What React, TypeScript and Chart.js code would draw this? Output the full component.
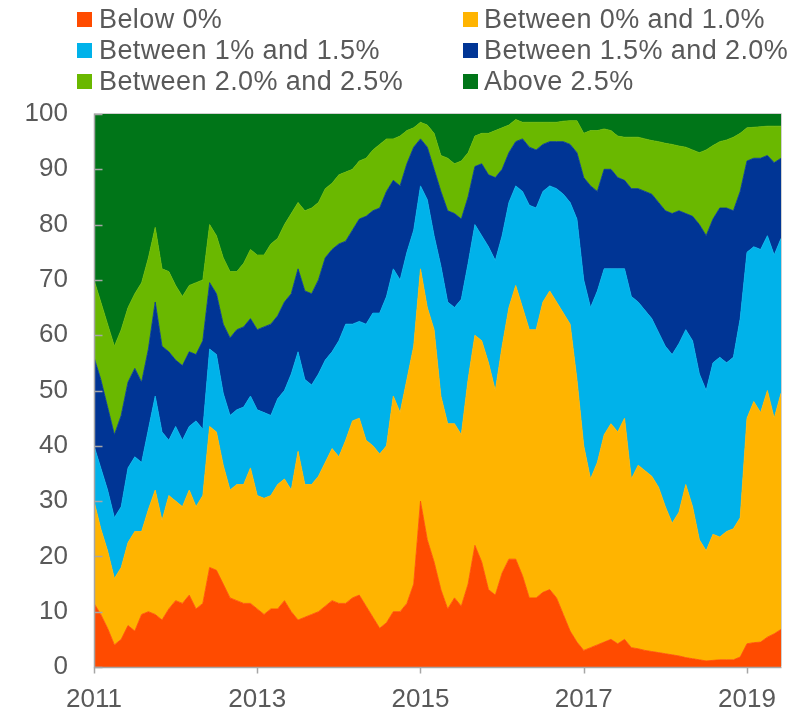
import React, { useEffect, useRef } from "react";
import { Chart, registerables } from "chart.js";

Chart.register(...registerables);

const FONT = '"Liberation Sans", Arial, Helvetica, sans-serif';
const TEXT_COLOR = "#595959";
const AXIS_COLOR = "#A6A6A6";

const seriesNames = [
  "Below 0%",
  "Between 0% and 1.0%",
  "Between 1% and 1.5%",
  "Between 1.5% and 2.0%",
  "Between 2.0% and 2.5%",
  "Above 2.5%",
];
const seriesColors = ["#FF4B00", "#FFB400", "#00B2EA", "#003595", "#6AB800", "#007518"];

const yearTicks = [2011, 2013, 2015, 2017, 2019];
const yTicks = [0, 10, 20, 30, 40, 50, 60, 70, 80, 90, 100];
const firstYear = 2011;

// monthly values, Jan 2011 .. Jun 2019 (share of total, %)
const below0 = [
  11.5, 9.5, 7, 4, 5, 7.5, 6.5, 9.5, 10, 9.5, 8.5, 10.5,
  12, 11.5, 13, 10.5, 11.5, 18, 17.5, 15, 12.5, 12, 11.5, 11.5,
  10.5, 9.5, 10.5, 10.5, 12, 10, 8.5, 9, 9.5, 10, 11, 12,
  11.5, 11.5, 12.5, 13, 11, 9, 7, 8, 10, 10, 11.5, 15,
  30, 23, 19, 14, 10.5, 12.5, 11, 15, 22, 19, 14, 13,
  17, 19.5, 19.5, 16.5, 12.5, 12.5, 13.5, 14, 12.5, 9.5, 6.5, 4.5,
  3, 3.5, 4, 4.5, 5, 4.2, 5, 3.5, 3.3, 3, 2.8, 2.6,
  2.4, 2.2, 2, 1.7, 1.5, 1.3, 1.1, 1.2, 1.3, 1.3, 1.3, 1.8,
  4.2, 4.4, 4.5, 5.4, 6, 6.8,
];
const between0and1 = [
  18.5, 15.5, 14, 12, 13, 15, 18, 15, 18.5, 22.5, 18, 20.5,
  18, 17.5, 19, 18.5, 19.5, 25.5, 25, 21.5, 19.5, 21, 21.5, 24.5,
  20.5, 21, 20.5, 22.5, 22, 22, 30.5, 24, 23.5, 24.5, 26, 27.5,
  26.5, 29.5, 32, 32, 30, 31, 31.5, 32, 39, 36, 40.5, 43,
  42, 42, 42, 35, 33.5, 31.5, 31, 37, 38, 40, 41, 37,
  41, 45.5, 49.5, 48.5, 48.5, 48.5, 52.5, 54, 53.5, 54.5, 55.5, 47.5,
  37, 30.5, 33, 37.5, 39, 38.3, 40, 30.5, 33.2, 32.5, 31.7, 29.9,
  26.6, 23.8, 26, 31.3, 27.5, 21.7, 19.9, 22.8, 22.2, 23.2, 23.7, 25.2,
  40.8, 43.6, 41.5, 44.6, 39, 42.7,
];
const between1and15 = [
  10, 11, 11, 11, 11, 13.5, 13.5, 12.5, 14.5, 17, 16, 10,
  13.5, 12, 11.5, 15.5, 12, 14, 14, 13, 13.5, 13.5, 14, 13,
  15.5, 15.5, 14.5, 15.5, 16, 21, 18, 19, 18, 18.5, 18.5, 17.5,
  21, 21, 17.5, 17.5, 21, 24, 25.5, 27, 23, 24, 23, 21,
  15, 19.5, 17, 23.5, 22, 21, 24.5, 21, 20, 19, 21, 23.5,
  20, 19, 18, 21, 22.5, 22, 20, 19, 20.5, 21.5, 22, 29,
  30, 31, 31, 30, 28, 29.5, 27, 33, 29.5, 29, 28.5, 28,
  29, 30.5, 30.5, 28, 30, 30, 29, 31, 32.5, 30.5, 31, 36,
  30, 28, 29.5, 28, 29.5, 28,
];
const between15and2 = [
  16, 16, 15, 15, 16.5, 15.5, 16, 14.5, 14.5, 17, 15.5, 16,
  12, 13.5, 13.5, 12, 16, 12, 11, 12.5, 14, 14.5, 14.5, 14,
  14.5, 15.5, 16.5, 15, 16, 14.5, 15, 16, 16.5, 17, 18.5, 18.5,
  17.5, 15, 17, 18.5, 19.5, 18.5, 19, 19, 16, 17, 16, 15,
  8.5, 9.5, 12, 13.5, 16.5, 17, 14.5, 12, 10.5, 13, 13, 15,
  12, 9, 8, 9.5, 10.5, 10.5, 8.5, 8, 8.5, 9.5, 10.5, 12,
  18.5, 22, 18, 18, 18, 16.5, 16, 19.5, 20.5, 21.5, 22.5, 23.5,
  24.5, 25.5, 24, 21, 22.5, 27, 28, 26, 27, 28, 26.5, 23,
  16.5, 16, 16.5, 14.5, 16.7, 14.5,
];
const between2and25 = [
  14, 14, 15, 16, 15.5, 13.5, 13.5, 18, 16.5, 13.5, 14, 14.5,
  13.5, 12.5, 12, 13, 11, 10.5, 10.5, 12, 12, 10.5, 11.5, 12.5,
  13.5, 13, 14.5, 14, 14, 14.5, 12, 14.5, 15.5, 14, 12.5, 12,
  12.5, 12.5, 11, 10.5, 10.5, 11, 11.5, 9.5, 7.5, 9, 6, 3.5,
  3, 4, 6.5, 6.5, 9.5, 9, 10.5, 8, 5.5, 5.5, 7.5, 8.5,
  7.5, 5, 4, 3, 4.5, 5, 4, 3.5, 3.5, 3.7, 4.3, 5.8,
  8, 10, 11, 7.3, 7, 7.5, 7.8, 9.3, 9.3, 9.5, 9.7, 11,
  12.2, 12.5, 11.7, 12, 12, 13, 15.5, 13.3, 12, 12.3, 13.3, 10.5,
  6, 5.6, 5.7, 5.3, 6.6, 5.8,
];
const above25 = [
  30, 34, 38, 42, 39, 35, 32.5, 30.5, 26, 20.5, 28, 28.5,
  31, 33, 31, 30.5, 30, 20, 22, 26, 28.5, 28.5, 27, 24.5,
  25.5, 25.5, 23.5, 22.5, 20, 18, 16, 17.5, 17, 16, 13.5, 12.5,
  11, 10.5, 10, 8.5, 8, 6.5, 5.5, 4.5, 4.5, 4, 3, 2.5,
  1.5, 2, 3.5, 7.5, 8, 9, 8.5, 7, 4, 3.5, 3.5, 3,
  2.5, 2, 1, 1.5, 1.5, 1.5, 1.5, 1.5, 1.5, 1.3, 1.2, 1.2,
  3.5, 3, 3, 2.7, 3, 4, 4.2, 4.2, 4.2, 4.5, 4.8, 5,
  5.3, 5.5, 5.8, 6, 6.5, 7, 6.5, 5.7, 5, 4.7, 4.2, 3.5,
  2.5, 2.4, 2.3, 2.2, 2.2, 2.2,
];

const seriesValues = [below0, between0and1, between1and15, between15and2, between2and25, above25];

const axisFramePlugin = {
  id: "axisFrame",
  afterDatasetsDraw(chart: any) {
    const { ctx, chartArea: a, scales } = chart;
    const L = Math.round(a.left) + 0.5;
    const R = Math.round(a.right) - 0.5;
    const T = Math.round(a.top) + 0.5;
    const B = Math.round(a.bottom) - 0.5;
    ctx.save();
    ctx.strokeStyle = "#D0D0D0";
    ctx.lineWidth = 1;
    ctx.beginPath();
    ctx.moveTo(L, T - 1);
    ctx.lineTo(R + 1, T - 1);
    ctx.lineTo(R + 1, B);
    ctx.stroke();
    ctx.strokeStyle = AXIS_COLOR;
    ctx.lineWidth = 1.5;
    ctx.beginPath();
    ctx.moveTo(L, T - 1);
    ctx.lineTo(L, B + 1);
    ctx.lineTo(R + 1, B + 1);
    ctx.stroke();
    ctx.beginPath();
    for (const v of yTicks) {
      const y = Math.round(scales.y.getPixelForValue(v)) + 0.5;
      ctx.moveTo(L, y);
      ctx.lineTo(L + 8, y);
    }
    for (const v of yearTicks) {
      const x = Math.round(scales.x.getPixelForValue(v)) + 0.5;
      ctx.moveTo(x, B + 1);
      ctx.lineTo(x, B + 7);
    }
    ctx.stroke();
    ctx.restore();
  },
};

export default function App() {
  const canvasRef = useRef<HTMLCanvasElement | null>(null);

  useEffect(() => {
    if (!canvasRef.current) return;
    const xs = below0.map((_, i) => firstYear + i / 12);
    const chart = new Chart(canvasRef.current, {
      type: "line",
      data: {
        datasets: seriesValues.map((vals, k) => ({
          label: seriesNames[k],
          data: vals.map((v, i) => ({ x: xs[i], y: v })),
          backgroundColor: seriesColors[k],
          borderColor: seriesColors[k],
          borderWidth: 0.8,
          pointRadius: 0,
          tension: 0,
          fill: k === 0 ? "origin" : "-1",
        })),
      },
      options: {
        animation: false,
        responsive: true,
        maintainAspectRatio: false,
        layout: { padding: { top: 114, right: 17, left: 0, bottom: 0 } },
        plugins: {
          legend: { display: false },
          tooltip: { enabled: false },
        },
        scales: {
          x: {
            type: "linear",
            min: firstYear,
            max: xs[xs.length - 1],
            grid: { display: false },
            border: { display: false },
            ticks: {
              font: { family: FONT, size: 26 },
              color: TEXT_COLOR,
              padding: 9,
              maxRotation: 0,
              autoSkip: false,
              callback: (v: any) => String(v),
            },
            afterBuildTicks: (s: any) => {
              s.ticks = yearTicks.map((v) => ({ value: v }));
            },
            afterFit: (s: any) => {
              s.height = 44;
            },
          },
          y: {
            stacked: true,
            min: 0,
            max: 100,
            grid: { display: false },
            border: { display: false },
            ticks: {
              stepSize: 10,
              font: { family: FONT, size: 26 },
              color: TEXT_COLOR,
              padding: 18,
            },
            afterFit: (s: any) => {
              s.width = 94;
            },
          },
        },
      } as any,
      plugins: [axisFramePlugin],
    });
    return () => chart.destroy();
  }, []);

  const legendCols = [77, 463];
  return (
    <div style={{ position: "absolute", left: 0, top: 0, width: 798, height: 711, background: "#fff" }}>
      <div style={{ position: "absolute", left: 0, top: 0, width: 798, height: 711 }}>
        <canvas ref={canvasRef} />
      </div>
      {seriesNames.map((name, k) => {
        const col = k % 2;
        const row = Math.floor(k / 2);
        return (
          <div
            key={name}
            style={{
              position: "absolute",
              left: legendCols[col],
              top: 3 + row * 31,
              height: 32,
              display: "flex",
              alignItems: "center",
              fontFamily: FONT,
              fontSize: 27,
              letterSpacing: 0.4,
              color: TEXT_COLOR,
              whiteSpace: "nowrap",
              lineHeight: 1,
            }}
          >
            <span
              style={{
                display: "inline-block",
                width: 15,
                height: 15,
                background: seriesColors[k],
                marginRight: col === 0 ? 7 : 6,
              }}
            />
            <span>{name}</span>
          </div>
        );
      })}
    </div>
  );
}
